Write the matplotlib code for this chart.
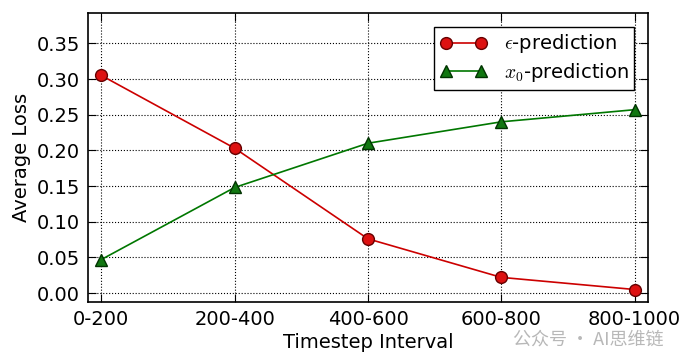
import matplotlib.pyplot as plt

intervals = ["0-200", "200-400", "400-600", "600-800", "800-1000"]
eps_loss = [0.305, 0.203, 0.076, 0.022, 0.005]
x0_loss = [0.047, 0.148, 0.210, 0.240, 0.257]
yticks = [0.00, 0.05, 0.10, 0.15, 0.20, 0.25, 0.30, 0.35]

plt.rcParams['mathtext.fontset'] = 'cm'
plt.rcParams['font.size'] = 14

fig = plt.figure(figsize=(6.84, 3.63), dpi=100)
ax = fig.add_axes([88 / 684, 61 / 363, 560 / 684, 289 / 363])

xs = range(len(intervals))
ax.plot(xs, eps_loss, color="#cc0000", marker="o", markersize=8.5,
        markerfacecolor="#dd1111", markeredgecolor="#660000", linewidth=1.2,
        label=r"$\epsilon$-prediction")
ax.plot(xs, x0_loss, color="#007700", marker="^", markersize=8.5,
        markerfacecolor="#117711", markeredgecolor="#003300", linewidth=1.2,
        label=r"$x_0$-prediction")

ax.set_xlim(-0.1, 4.1)
ax.set_ylim(-0.0125, 0.3925)
ax.set_xticks(list(xs))
ax.set_xticklabels(intervals)
ax.set_yticks(yticks)
ax.set_yticklabels([f"{v:.2f}" for v in yticks])
ax.tick_params(direction="in", length=6, top=True, right=True, labelsize=14, pad=6)
ax.grid(True, linestyle=":", color="black", linewidth=0.8)
for s in ax.spines.values():
    s.set_linewidth(1.2)

ax.set_xlabel("Timestep Interval", fontsize=14, labelpad=3)
ax.set_ylabel("Average Loss", fontsize=14)

leg = ax.legend(loc="upper right", numpoints=2, fancybox=False, fontsize=14,
                edgecolor="black", framealpha=1, borderaxespad=0.7,
                handlelength=2.4, borderpad=0.3, labelspacing=0.3,
                handletextpad=0.9)
leg.get_frame().set_linewidth(1.0)

fig.text(0.97, 0.065, "公众号 · AI思维链", ha="right", va="center", color="#b8b8b8",
         fontsize=13, family=["Noto Sans CJK SC", "DejaVu Sans"])

fig.savefig("out.png", dpi=100, facecolor="white")
